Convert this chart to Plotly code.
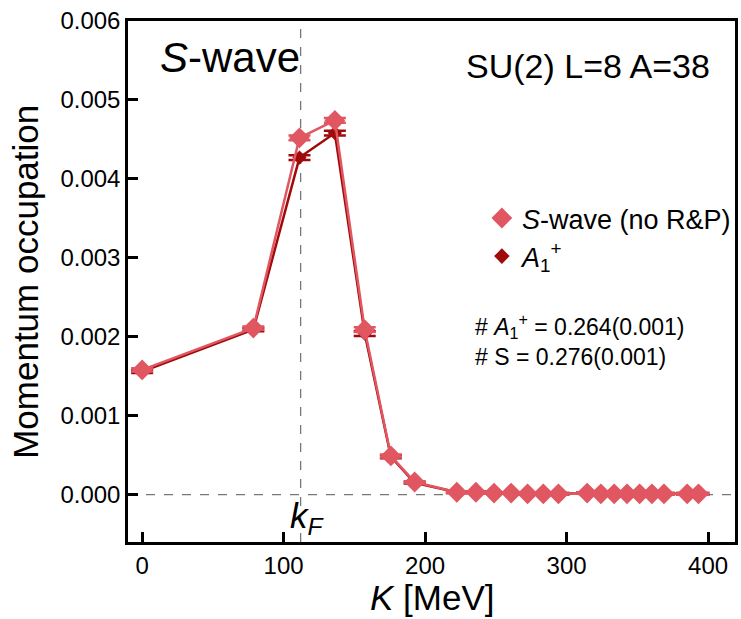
import plotly.graph_objects as go

# Data
K = [0, 78.6, 111.2, 136.2, 157.3, 175.8, 192.6, 222.4, 235.9, 248.7, 260.8, 272.4,
     283.5, 294.2, 314.5, 324.2, 333.6, 342.7, 351.6, 360.3, 368.8, 385.2, 393.2]
S_wave = [0.00158, 0.00211, 0.00452, 0.00474, 0.00209, 0.00049, 0.00016, 0.00003,
          0.00003, 0.00002, 0.00002, 0.00001, 0.00001, 0.00001, 0.00002, 0.00001,
          0.00001, 0.00001, 0.00001, 0.00001, 0.00001, 0.00001, 0.00001]
S_err = [0.00002, 0.00002, 0.00003, 0.00003, 0.00003, 0.00002, 0.00001, 0.00001,
         0.00001, 0.00001, 0.00001, 0.00001, 0.00001, 0.00001, 0.00001, 0.00001,
         0.00001, 0.00001, 0.00001, 0.00001, 0.00001, 0.00001, 0.00001]
A1 = [0.00156, 0.00209, 0.00427, 0.00458, 0.00204, 0.00048, 0.00015, 0.00003,
      0.00003, 0.00002, 0.00002, 0.00001, 0.00001, 0.00001, 0.00002, 0.00001,
      0.00001, 0.00001, 0.00001, 0.00001, 0.00001, 0.00001, 0.00001]
A1_err = [0.00002, 0.00002, 0.00003, 0.00003, 0.00003, 0.00002, 0.00001, 0.00001,
          0.00001, 0.00001, 0.00001, 0.00001, 0.00001, 0.00001, 0.00001, 0.00001,
          0.00001, 0.00001, 0.00001, 0.00001, 0.00001, 0.00001, 0.00001]
kF = 112
x_ticks = [0, 100, 200, 300, 400]
y_ticks = [0.000, 0.001, 0.002, 0.003, 0.004, 0.005, 0.006]

LIGHT = "#e05661"
DARK = "#a00a0a"
FONT = "Liberation Sans, Arial, sans-serif"

fig = go.Figure()

fig.add_trace(go.Scatter(
    x=K, y=A1, mode="lines+markers", showlegend=False,
    line=dict(color=DARK, width=2.5),
    marker=dict(symbol="diamond", size=11, color=DARK),
    error_y=dict(type="data", array=A1_err, color=DARK, thickness=2.5, width=11),
))
fig.add_trace(go.Scatter(
    x=K, y=S_wave, mode="lines+markers", showlegend=False,
    line=dict(color=LIGHT, width=2.5),
    marker=dict(symbol="diamond", size=16, color=LIGHT),
    error_y=dict(type="data", array=S_err, color=LIGHT, thickness=2.5, width=11),
))
# legend entries
fig.add_trace(go.Scatter(
    x=[None], y=[None], mode="markers", name="<i>S</i>-wave (no R&P)",
    marker=dict(symbol="diamond", size=16, color=LIGHT),
))
fig.add_trace(go.Scatter(
    x=[None], y=[None], mode="markers", name="<i>A</i><sub>1</sub><sup>+</sup>",
    marker=dict(symbol="diamond", size=12, color=DARK),
))

# reference lines
fig.add_shape(type="line", xref="paper", yref="y", x0=0, x1=1, y0=0, y1=0,
              line=dict(color="#777777", width=1.3, dash="dash"), layer="below")
fig.add_shape(type="line", xref="x", yref="paper", x0=kF, x1=kF, y0=0, y1=1,
              line=dict(color="#777777", width=1.3, dash="dash"), layer="below")

fig.add_annotation(x=0.049, y=0.929, xref="paper", yref="paper", showarrow=False,
                   xanchor="left", yanchor="middle",
                   text="<i>S</i>-wave", font=dict(size=42, color="black", family=FONT))
fig.add_annotation(x=0.962, y=0.914, xref="paper", yref="paper", showarrow=False,
                   xanchor="right", yanchor="middle",
                   text="SU(2) L=8 A=38", font=dict(size=34, color="black", family=FONT))
fig.add_annotation(x=103, y=-0.00029, xref="x", yref="y", showarrow=False,
                   xanchor="left", yanchor="middle",
                   text="<i>k<sub>F</sub></i>", font=dict(size=35, color="black", family=FONT))
fig.add_annotation(x=0.569, y=0.388, xref="paper", yref="paper", showarrow=False,
                   xanchor="left", yanchor="middle", align="left",
                   text="# <i>A</i><sub>1</sub><sup>+</sup> = 0.264(0.001)<br># S = 0.276(0.001)",
                   font=dict(size=23, color="black", family=FONT))
# axis titles
fig.add_annotation(x=0.502, y=-0.106, xref="paper", yref="paper", showarrow=False,
                   xanchor="center", yanchor="middle",
                   text="<i>K</i> [MeV]", font=dict(size=35, color="black", family=FONT))
fig.add_annotation(x=-0.170, y=0.499, xref="paper", yref="paper", showarrow=False,
                   xanchor="center", yanchor="middle", textangle=-90,
                   text="Momentum occupation", font=dict(size=35, color="black", family=FONT))

fig.update_layout(
    width=741, height=619,
    margin=dict(l=128, r=3, t=21, b=77),
    paper_bgcolor="white", plot_bgcolor="white",
    font=dict(family=FONT, color="black", size=24),
    legend=dict(x=0.583, y=0.668, xanchor="left", yanchor="top",
                font=dict(size=27), bgcolor="rgba(0,0,0,0)", itemsizing="trace",
                tracegroupgap=0),
    xaxis=dict(range=[-10, 419], tickvals=x_ticks, ticks="inside", ticklen=10,
               tickwidth=2.5, tickcolor="black", showline=True, linecolor="black",
               linewidth=2.5, mirror=True, showgrid=False, zeroline=False,
               tickfont=dict(size=24)),
    yaxis=dict(range=[-0.0006, 0.006], tickvals=y_ticks,
               ticktext=[f"{v:.3f}" for v in y_ticks], ticks="inside", ticklen=10,
               tickwidth=2.5, tickcolor="black", showline=True, linecolor="black",
               linewidth=2.5, mirror=True, showgrid=False, zeroline=False,
               tickfont=dict(size=24)),
)

fig.write_html("out.html", config={"displayModeBar": False},
               post_script="document.body.style.margin='0';document.body.style.padding='0';document.body.style.overflow='hidden';")
